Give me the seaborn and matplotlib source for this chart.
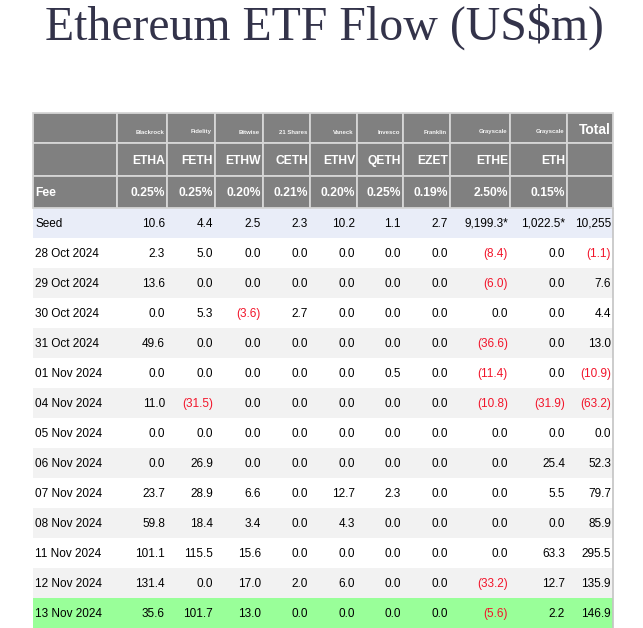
import numpy as np
import matplotlib
matplotlib.use("Agg")
import matplotlib.pyplot as plt
from matplotlib.colors import ListedColormap
from matplotlib.patches import Rectangle
import seaborn as sns

# ---- data (US$m) ----
tickers = ["ETHA", "FETH", "ETHW", "CETH", "ETHV", "QETH", "EZET", "ETHE", "ETH"]
issuers = ["Blackrock", "Fidelity", "Bitwise", "21 Shares", "Vaneck",
           "Invesco", "Franklin", "Grayscale", "Grayscale"]
fees = ["0.25%", "0.25%", "0.20%", "0.21%", "0.20%", "0.25%", "0.19%", "2.50%", "0.15%"]
seed = [10.6, 4.4, 2.5, 2.3, 10.2, 1.1, 2.7, 9199.3, 1022.5]
seed_total = 10255
dates = ["28 Oct 2024", "29 Oct 2024", "30 Oct 2024", "31 Oct 2024", "01 Nov 2024",
         "04 Nov 2024", "05 Nov 2024", "06 Nov 2024", "07 Nov 2024", "08 Nov 2024",
         "11 Nov 2024", "12 Nov 2024", "13 Nov 2024"]
flows = np.array([
    [2.3, 5.0, 0.0, 0.0, 0.0, 0.0, 0.0, -8.4, 0.0],
    [13.6, 0.0, 0.0, 0.0, 0.0, 0.0, 0.0, -6.0, 0.0],
    [0.0, 5.3, -3.6, 2.7, 0.0, 0.0, 0.0, 0.0, 0.0],
    [49.6, 0.0, 0.0, 0.0, 0.0, 0.0, 0.0, -36.6, 0.0],
    [0.0, 0.0, 0.0, 0.0, 0.0, 0.5, 0.0, -11.4, 0.0],
    [11.0, -31.5, 0.0, 0.0, 0.0, 0.0, 0.0, -10.8, -31.9],
    [0.0, 0.0, 0.0, 0.0, 0.0, 0.0, 0.0, 0.0, 0.0],
    [0.0, 26.9, 0.0, 0.0, 0.0, 0.0, 0.0, 0.0, 25.4],
    [23.7, 28.9, 6.6, 0.0, 12.7, 2.3, 0.0, 0.0, 5.5],
    [59.8, 18.4, 3.4, 0.0, 4.3, 0.0, 0.0, 0.0, 0.0],
    [101.1, 115.5, 15.6, 0.0, 0.0, 0.0, 0.0, 0.0, 63.3],
    [131.4, 0.0, 17.0, 2.0, 6.0, 0.0, 0.0, -33.2, 12.7],
    [35.6, 101.7, 13.0, 0.0, 0.0, 0.0, 0.0, -5.6, 2.2],
])
totals = [-1.1, 7.6, 4.4, 13.0, -10.9, -63.2, 0.0, 52.3, 79.7, 85.9, 295.5, 135.9, 146.9]

# ---- layout (pixel units) ----
W, H = 643, 628
col_edges = [33, 117, 167, 215, 263, 310, 357, 403, 450, 510, 567, 613]
head_edges = [113, 143, 176, 208]
row_h = 30
body_top = 208

HEAD_BG = "#808080"
GRID = "#d6d6d6"
RED = "#f2142a"
TXT = "#000000"
BODY_FS = 8.5
HEAD_FS = 8.7


def fmt(v):
    if v < 0:
        return "({:,.1f})".format(-v)
    return "{:,.1f}".format(v)


sns.set_theme(style="white")
plt.rcParams["font.family"] = ["Liberation Sans", "DejaVu Sans"]

fig = plt.figure(figsize=(W / 100, H / 100), dpi=100)

# body row stripes drawn as a one-column seaborn heatmap
row_code = [0] + [1 if i % 2 == 0 else 2 for i in range(len(dates))]
row_code[-1] = 3
stripe_cmap = ListedColormap(["#e9edf8", "#ffffff", "#f2f2f2", "#99ff99"])
hax = fig.add_axes([col_edges[0] / W, 0, (col_edges[-1] - col_edges[0]) / W,
                    (H - body_top) / H])
sns.heatmap(np.array(row_code).reshape(-1, 1), ax=hax, cmap=stripe_cmap,
            vmin=-0.5, vmax=3.5, cbar=False, xticklabels=False, yticklabels=False)
hax.axis("off")

ax = fig.add_axes([0, 0, 1, 1])
ax.set_xlim(0, W)
ax.set_ylim(H, 0)
ax.patch.set_alpha(0)
ax.axis("off")

# title
ax.text(324, 27, "Ethereum ETF Flow (US$m)", ha="center", va="center",
        fontsize=34.4, color="#33334a", family=["Liberation Serif", "DejaVu Serif"])

# header cells
for r in range(3):
    y0, y1 = head_edges[r], head_edges[r + 1]
    for c in range(len(col_edges) - 1):
        x0, x1 = col_edges[c], col_edges[c + 1]
        ax.add_patch(Rectangle((x0, y0), x1 - x0, y1 - y0, facecolor=HEAD_BG,
                               edgecolor=GRID, lw=1.3))

for c in range(len(tickers)):
    xr = col_edges[c + 2] - 2
    ax.text(xr - 1, 132, issuers[c], ha="right", va="center", fontsize=4.3,
            fontweight="bold", color="#f4f4f4")
    ax.text(xr, 161, tickers[c], ha="right", va="center", fontsize=HEAD_FS,
            fontweight="bold", color="white")
    ax.text(xr, 193, fees[c], ha="right", va="center", fontsize=HEAD_FS,
            fontweight="bold", color="white")
ax.text(col_edges[-1] - 2, 130, "Total", ha="right", va="center", fontsize=10,
        fontweight="bold", color="white")
ax.text(col_edges[0] + 2, 193, "Fee", ha="left", va="center", fontsize=HEAD_FS,
        fontweight="bold", color="white")

# body text
yc = body_top + row_h / 2 + 1
ax.text(col_edges[0] + 2, yc, "Seed", ha="left", va="center", fontsize=BODY_FS, color=TXT)
for c, v in enumerate(seed):
    s = fmt(v) + ("*" if v >= 1000 else "")
    ax.text(col_edges[c + 2] - 2, yc, s, ha="right", va="center", fontsize=BODY_FS, color=TXT)
ax.text(col_edges[-1] - 2, yc, "{:,.0f}".format(seed_total), ha="right",
        va="center", fontsize=BODY_FS, color=TXT)

for i, d in enumerate(dates):
    yc = body_top + row_h * (i + 1) + row_h / 2 + 1
    ax.text(col_edges[0] + 2, yc, d, ha="left", va="center", fontsize=BODY_FS, color=TXT)
    for c, v in enumerate(flows[i]):
        ax.text(col_edges[c + 2] - 2, yc, fmt(v), ha="right", va="center",
                fontsize=BODY_FS, color=RED if v < 0 else TXT)
    t = totals[i]
    ax.text(col_edges[-1] - 2, yc, fmt(t), ha="right", va="center",
            fontsize=BODY_FS, color=RED if t < 0 else TXT)

ax.plot([col_edges[-1], col_edges[-1]], [body_top, H], color="#c4c4c4", lw=1.2)

fig.savefig("out.png", dpi=100)
